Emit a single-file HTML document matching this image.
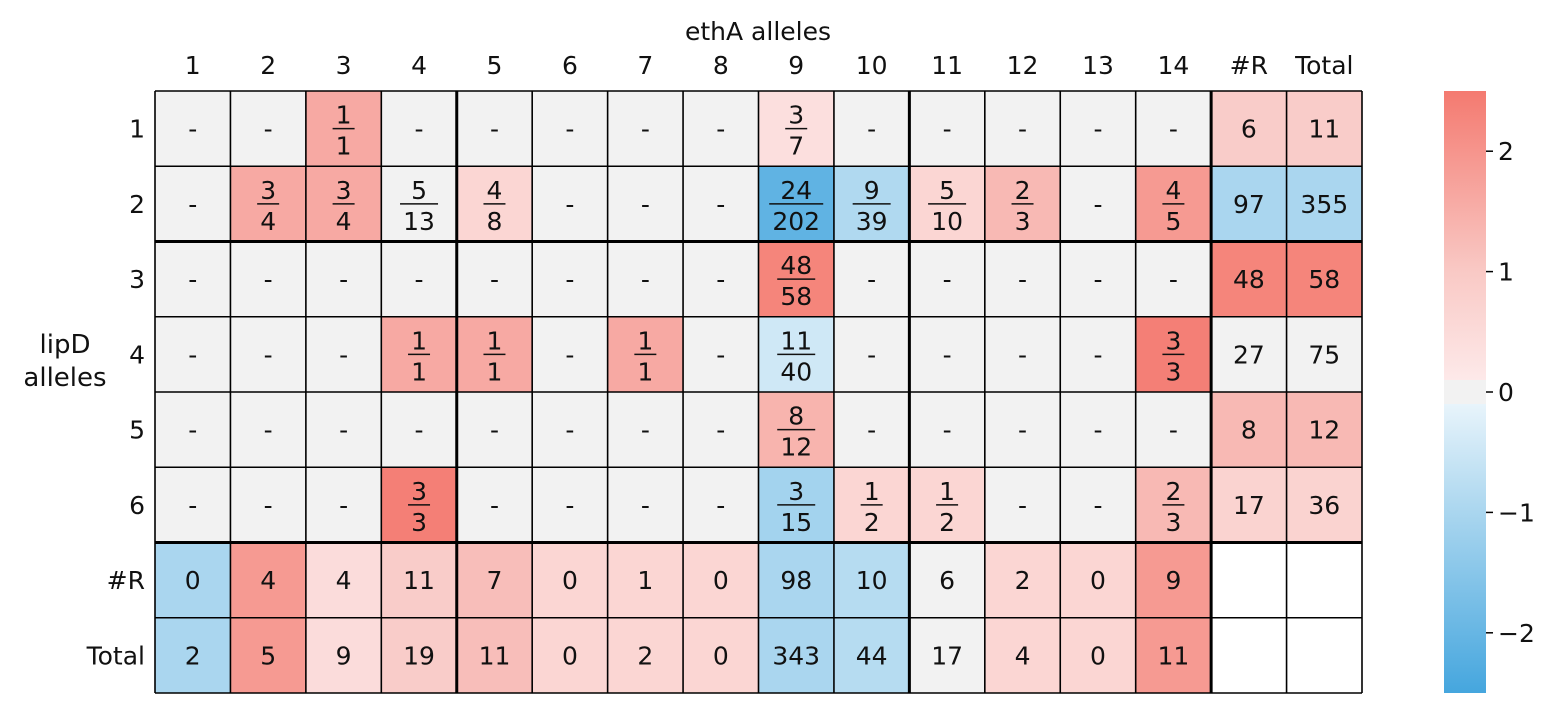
<!DOCTYPE html>
<html><head><meta charset="utf-8"><style>
body{margin:0;background:#fff;}
svg text{font-family:"DejaVu Sans","Liberation Sans",sans-serif;fill:#111;}
</style></head><body>
<svg id="chart" width="1553" height="718" xmlns="http://www.w3.org/2000/svg">
<defs><linearGradient id="cbg" x1="0" y1="1" x2="0" y2="0">
<stop offset="0" stop-color="#45a6de"/><stop offset="0.3" stop-color="#aad6ef"/><stop offset="0.48" stop-color="#e8f4fb"/>
<stop offset="0.48" stop-color="#f2f2f2"/><stop offset="0.52" stop-color="#f2f2f2"/>
<stop offset="0.52" stop-color="#fde9e9"/><stop offset="0.7" stop-color="#f9c9c5"/><stop offset="1" stop-color="#f47a70"/>
</linearGradient></defs>
<g id="cells"></g><g id="lines"></g><g id="labels"></g>
<text x="758" y="40" font-size="25" text-anchor="middle">ethA alleles</text>
<text x="65" y="353" font-size="26" text-anchor="middle">lipD</text>
<text x="65" y="386" font-size="26" text-anchor="middle">alleles</text>
<rect x="1444" y="91" width="42" height="602" fill="url(#cbg)"/>
<g id="cbticks"></g>
</svg>
<script>
const colLabels=["1","2","3","4","5","6","7","8","9","10","11","12","13","14","#R","Total"];
const rowLabels=["1","2","3","4","5","6","#R","Total"];
const cellText=[
["-","-","1/1","-","-","-","-","-","3/7","-","-","-","-","-","6","11"],
["-","3/4","3/4","5/13","4/8","-","-","-","24/202","9/39","5/10","2/3","-","4/5","97","355"],
["-","-","-","-","-","-","-","-","48/58","-","-","-","-","-","48","58"],
["-","-","-","1/1","1/1","-","1/1","-","11/40","-","-","-","-","3/3","27","75"],
["-","-","-","-","-","-","-","-","8/12","-","-","-","-","-","8","12"],
["-","-","-","3/3","-","-","-","-","3/15","1/2","1/2","-","-","2/3","17","36"],
["0","4","4","11","7","0","1","0","98","10","6","2","0","9","",""],
["2","5","9","19","11","0","2","0","343","44","17","4","0","11","",""]];
const cellValue=[
[0,0,1.6,0,0,0,0,0,0.3,0,0,0,0,0,0.9,0.9],
[0,1.6,1.6,0,0.6,0,0,0,-2.1,-0.9,0.6,1.3,0,1.9,-1.0,-1.0],
[0,0,0,0,0,0,0,0,2.3,0,0,0,0,0,2.3,2.3],
[0,0,0,1.6,1.6,0,1.6,0,-0.4,0,0,0,0,2.4,0,0],
[0,0,0,0,0,0,0,0,1.4,0,0,0,0,0,1.3,1.3],
[0,0,0,2.4,0,0,0,0,-1.1,0.6,0.6,0,0,1.3,0.7,0.7],
[-1.0,1.9,0.4,0.9,1.2,0.6,0.6,0.6,-1.0,-0.8,0,0.6,0.6,1.9,null,null],
[-1.0,1.9,0.4,0.9,1.2,0.6,0.6,0.6,-1.0,-0.8,0,0.6,0.6,1.9,null,null]];
const cbTicks=[2,1,0,-1,-2];
const X0=155,Y0=91,W=1207,H=602,nc=colLabels.length,nr=rowLabels.length,cw=W/nc,ch=H/nr;
const vmin=-2.5,vmax=2.5;
const FS=25;
function lerp(a,b,t){return a.map((v,i)=>Math.round(v+(b[i]-v)*t));}
function color(v){
 if(v===null)return "#ffffff";
 if(Math.abs(v)<0.1)return "#f2f2f2";
 let c;
 if(v>0){c=v<1?lerp([253,233,233],[249,201,197],v):lerp([249,201,197],[244,122,112],Math.min(1,(v-1)/1.5));}
 else{const a=-v;c=a<1?lerp([232,244,251],[170,214,239],a):lerp([170,214,239],[69,166,222],Math.min(1,(a-1)/1.5));}
 return "rgb("+c.join(",")+")";
}
const NS="http://www.w3.org/2000/svg";
function mk(t,attrs,parent){const e=document.createElementNS(NS,t);for(const k in attrs)e.setAttribute(k,attrs[k]);parent.appendChild(e);return e;}
const gC=document.getElementById("cells"),gL=document.getElementById("labels"),gLn=document.getElementById("lines");
for(let r=0;r<nr;r++)for(let c=0;c<nc;c++){
 const x=X0+c*cw,y=Y0+r*ch;
 const rc=mk("rect",{x:x,y:y,width:cw,height:ch,fill:color(cellValue[r][c])},gC);
 
 
 const t=cellText[r][c],cx=x+cw/2,cy=y+ch/2;
 if(t.includes("/")){
  const [n,d]=t.split("/");
  const a=mk("text",{x:cx,y:cy-5,"font-size":FS,"text-anchor":"middle"},gL);a.textContent=n;
  
  
  const b=mk("text",{x:cx,y:cy+26,"font-size":FS,"text-anchor":"middle"},gL);b.textContent=d;
  
  
  const lw=Math.max(n.length,d.length)*16+6;
  mk("line",{x1:cx-lw/2,x2:cx+lw/2,y1:cy,y2:cy,stroke:"#111","stroke-width":1.6},gL);
 }else if(t!==""){
  const a=mk("text",{x:cx,y:cy+9,"font-size":FS,"text-anchor":"middle"},gL);a.textContent=t;
  
  
 }
}
const thickC=[4,10,14],thickR=[2,6];
for(let c=0;c<=nc;c++){const x=X0+c*cw;mk("line",{x1:x,x2:x,y1:Y0,y2:Y0+H,stroke:"#000","stroke-width":thickC.includes(c)?3:1.6},gLn);}
for(let r=0;r<=nr;r++){const y=Y0+r*ch;mk("line",{x1:X0,x2:X0+W,y1:y,y2:y,stroke:"#000","stroke-width":thickR.includes(r)?3:1.6},gLn);}
colLabels.forEach((l,i)=>{const t=mk("text",{x:X0+i*cw+cw/2,y:74,"font-size":FS,"text-anchor":"middle"},gL);t.textContent=l;
 
 });
rowLabels.forEach((l,i)=>{const t=mk("text",{x:145,y:Y0+i*ch+ch/2+9,"font-size":FS,"text-anchor":"end"},gL);t.textContent=l;
 
 });
const gT=document.getElementById("cbticks");
cbTicks.forEach(v=>{const y=91+(vmax-v)/(vmax-vmin)*602;
 mk("line",{x1:1486,x2:1493,y1:y,y2:y,stroke:"#000","stroke-width":1.5},gT);
 const t=mk("text",{x:1498,y:y+9,"font-size":FS},gT);t.textContent=v<0?"\u2212"+(-v):String(v);
 
 });
</script>
</body></html>
